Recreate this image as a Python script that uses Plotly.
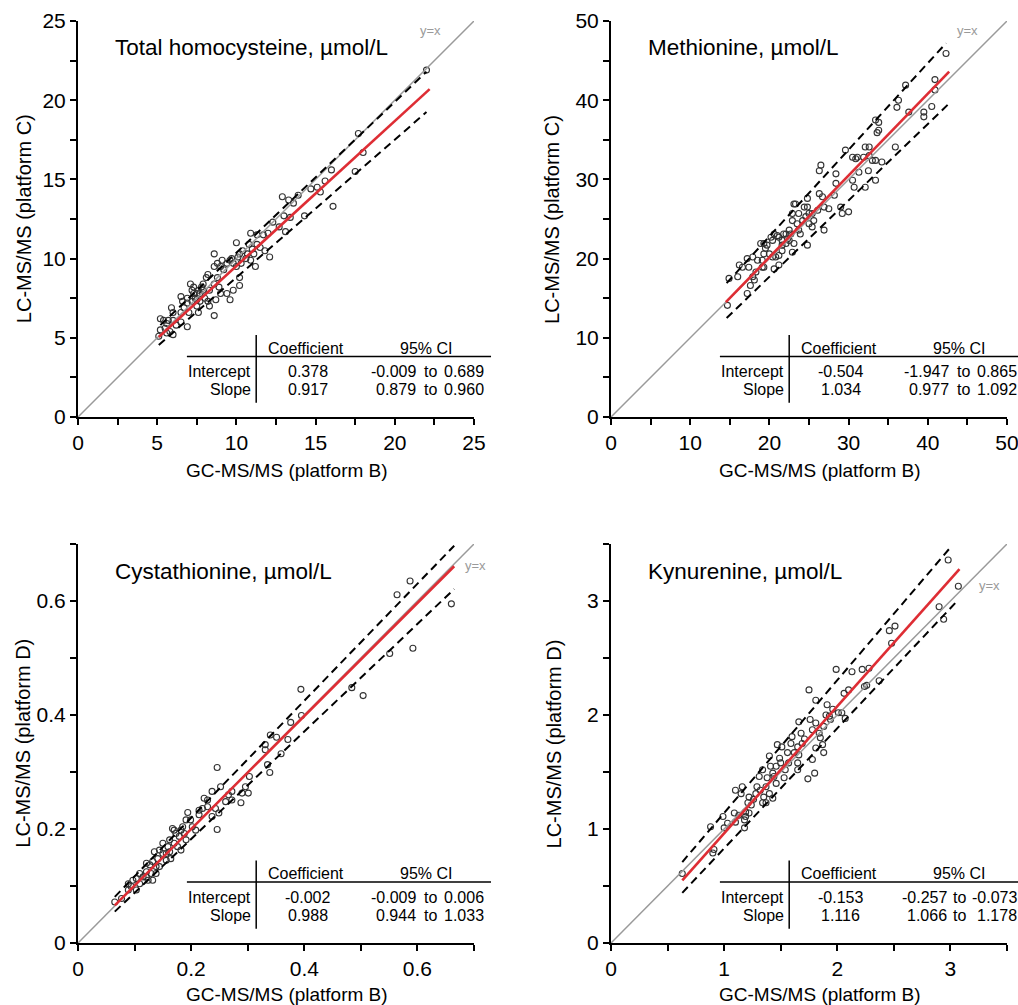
import plotly.graph_objects as go

# ---------------- data ----------------
titles = ["Total homocysteine, µmol/L", "Methionine, µmol/L",
          "Cystathionine, µmol/L", "Kynurenine, µmol/L"]
y_titles = ["LC-MS/MS (platform C)", "LC-MS/MS (platform C)",
            "LC-MS/MS (platform D)", "LC-MS/MS (platform D)"]
x_title = "GC-MS/MS (platform B)"

ranges = [25, 50, 0.7, 3.5]
major_dtick = [5, 10, 0.2, 1]
minor_dtick = [2.5, 5, 0.1, 0.5]

# Panel 1: total homocysteine
hcy_x = [22.0, 17.7, 18.0, 17.5, 16.0, 16.1, 15.3, 15.6, 15.1, 14.7, 14.3, 13.9, 13.6, 12.9, 13.3, 13.0,
         13.4, 12.7, 12.3, 13.1, 12.0, 11.7, 10.9, 11.3, 10.8, 11.3, 12.1, 11.2, 11.8, 10.0, 10.2, 10.3,
         10.2, 10.2, 9.8, 9.4, 9.6, 8.6, 8.6, 8.8, 9.0, 9.4, 9.7, 9.8, 9.2, 8.8, 8.9, 8.6, 9.0, 8.7, 8.6,
         8.3, 8.2, 7.9, 7.9, 7.7, 7.5, 7.3, 7.1, 7.4, 7.2, 6.9, 6.7, 7.5, 7.7, 7.6, 7.0, 6.5, 6.5, 6.6,
         6.0, 5.9, 5.7, 6.0, 6.9, 5.4, 5.2, 5.2, 5.5, 5.8, 6.0, 5.1, 5.6, 6.2, 6.5, 5.6, 8.1, 7.8, 7.3,
         10.9, 10.7, 10.6, 11.1, 11.5, 11.0, 9.6, 10.1, 10.4, 10.0, 9.1, 8.2, 8.3, 6.9, 7.2, 8.0, 7.6, 7.5]
hcy_y = [21.9, 17.9, 16.7, 15.5, 15.6, 13.3, 14.2, 14.9, 14.5, 14.4, 12.7, 14.0, 13.5, 13.9, 13.7, 12.7,
         12.6, 12.0, 12.3, 11.7, 11.6, 11.5, 11.6, 11.5, 10.9, 10.9, 10.1, 9.5, 10.5, 11.0, 10.3, 9.7,
         8.8, 8.3, 8.0, 7.8, 7.4, 10.3, 9.5, 9.7, 9.5, 9.7, 10.0, 9.7, 9.3, 8.8, 8.2, 8.4, 7.8, 7.4, 6.4,
         7.0, 7.3, 8.4, 8.0, 7.8, 7.4, 7.8, 8.4, 7.5, 7.3, 7.2, 6.9, 7.0, 7.3, 6.6, 6.6, 7.6, 6.6, 7.3,
         6.6, 6.9, 6.1, 6.1, 5.7, 6.1, 6.2, 5.5, 5.6, 5.4, 5.2, 5.1, 5.9, 5.8, 6.0, 5.3, 8.8, 8.2, 8.2,
         9.9, 10.3, 10.0, 10.3, 10.7, 10.6, 9.9, 10.1, 10.5, 9.5, 9.9, 9.0, 8.0, 7.5, 8.0, 7.5, 8.0, 7.8]

# Panel 2: methionine
met_x = [42.3, 40.9, 40.9, 40.5, 39.5, 39.5, 37.2, 36.3, 36.1, 37.6, 35.9, 33.8, 33.4, 33.6, 33.8, 34.2,
         33.4, 33.0, 33.4, 32.6, 32.1, 32.6, 31.9, 31.1, 30.9, 30.5, 31.3, 32.5, 32.1, 30.7, 30.5, 29.6,
         30.0, 29.2, 29.0, 28.4, 28.4, 28.2, 27.5, 26.9, 26.5, 26.3, 26.7, 26.3, 26.9, 26.1, 25.6, 25.4,
         25.0, 24.8, 24.8, 24.4, 24.6, 24.8, 24.2, 23.7, 23.1, 23.3, 22.9, 22.9, 22.7, 23.1, 22.9, 22.5,
         22.3, 22.1, 21.8, 21.6, 21.2, 21.0, 20.6, 20.4, 20.2, 19.7, 19.3, 18.9, 19.5, 20.0, 20.4, 20.8,
         21.2, 21.2, 20.6, 19.3, 19.1, 19.1, 19.3, 18.5, 17.9, 17.4, 17.2, 18.3, 17.9, 18.1, 17.6, 17.2,
         16.6, 16.2, 16.0, 14.9, 14.7, 21.6, 22.1, 23.7, 23.9, 25.0, 25.4, 23.5, 22.5, 21.6]
met_y = [45.9, 42.6, 41.3, 39.2, 38.5, 37.9, 41.9, 40.0, 39.1, 38.5, 34.1, 37.2, 37.5, 35.9, 36.2, 32.2,
         32.4, 32.4, 29.9, 34.1, 34.1, 33.0, 32.8, 32.8, 32.6, 32.8, 30.9, 31.1, 29.0, 29.0, 29.9, 33.7,
         25.9, 25.7, 26.5, 29.5, 30.7, 28.0, 26.3, 26.5, 31.8, 31.1, 27.8, 28.2, 23.6, 26.1, 24.8, 24.0,
         25.7, 26.5, 27.6, 26.5, 25.3, 21.7, 24.8, 25.7, 26.9, 26.9, 25.7, 24.8, 23.1, 21.9, 20.8, 23.6,
         22.5, 21.9, 23.1, 22.3, 22.7, 22.9, 23.1, 22.3, 22.7, 21.7, 21.9, 21.9, 21.3, 20.6, 20.2, 20.2,
         20.4, 19.2, 18.7, 20.6, 19.8, 18.9, 18.9, 19.8, 20.2, 18.9, 20.0, 18.3, 17.7, 17.3, 16.6, 15.6,
         18.9, 19.2, 17.7, 17.5, 14.1, 21.0, 23.1, 23.6, 23.1, 24.4, 25.7, 24.4, 22.3, 21.7]

# Panel 3: cystathionine
cys_x = [0.587, 0.564, 0.660, 0.592, 0.551, 0.394, 0.484, 0.504, 0.395, 0.376, 0.371, 0.351, 0.340, 0.331,
         0.331, 0.335, 0.339, 0.359, 0.246, 0.246, 0.303, 0.296, 0.301, 0.288, 0.272, 0.266, 0.261, 0.252,
         0.249, 0.237, 0.223, 0.229, 0.220, 0.237, 0.214, 0.199, 0.194, 0.202, 0.208, 0.182, 0.179, 0.167,
         0.173, 0.170, 0.162, 0.159, 0.150, 0.182, 0.176, 0.156, 0.144, 0.141, 0.135, 0.132, 0.138, 0.127,
         0.121, 0.121, 0.115, 0.124, 0.109, 0.103, 0.097, 0.094, 0.103, 0.089, 0.089, 0.109, 0.129, 0.132,
         0.150, 0.156, 0.162, 0.164, 0.065, 0.077, 0.188, 0.191, 0.214, 0.229, 0.243, 0.272, 0.290, 0.138,
         0.144, 0.121, 0.170, 0.191, 0.185]
cys_y = [0.635, 0.611, 0.595, 0.517, 0.508, 0.445, 0.448, 0.434, 0.399, 0.387, 0.357, 0.361, 0.365, 0.348,
         0.339, 0.313, 0.299, 0.332, 0.308, 0.199, 0.292, 0.274, 0.263, 0.246, 0.266, 0.260, 0.248, 0.274,
         0.228, 0.266, 0.254, 0.239, 0.236, 0.222, 0.225, 0.216, 0.229, 0.204, 0.198, 0.198, 0.187, 0.201,
         0.192, 0.175, 0.181, 0.169, 0.175, 0.163, 0.169, 0.157, 0.163, 0.148, 0.160, 0.143, 0.134, 0.137,
         0.140, 0.125, 0.116, 0.110, 0.122, 0.113, 0.110, 0.099, 0.093, 0.104, 0.093, 0.104, 0.122, 0.110,
         0.157, 0.145, 0.160, 0.148, 0.072, 0.078, 0.192, 0.181, 0.233, 0.251, 0.236, 0.251, 0.263, 0.122,
         0.134, 0.116, 0.198, 0.216, 0.204]

# Panel 4: kynurenine
kyn_x = [2.98, 3.07, 2.90, 2.94, 2.46, 2.51, 2.48, 2.37, 2.28, 2.22, 2.24, 2.26, 2.13, 2.10, 2.06, 2.07,
         1.99, 1.96, 1.91, 1.90, 2.01, 1.94, 1.75, 1.81, 1.76, 1.78, 1.81, 1.84, 1.85, 1.87, 1.88, 1.80,
         1.74, 1.78, 1.81, 1.66, 1.68, 1.69, 1.65, 1.66, 1.65, 1.65, 1.60, 1.59, 1.56, 1.57, 1.54, 1.53,
         1.51, 1.47, 1.49, 1.46, 1.44, 1.46, 1.40, 1.41, 1.38, 1.37, 1.40, 1.43, 1.34, 1.31, 1.29, 1.35,
         1.34, 1.28, 1.26, 1.22, 1.21, 1.19, 1.16, 1.15, 1.10, 1.18, 1.18, 1.19, 1.13, 1.10, 1.09, 1.03,
         1.00, 0.99, 0.88, 0.91, 0.90, 0.63, 1.24, 1.32, 1.43, 1.50, 1.62, 1.71, 1.93, 1.88, 2.04, 1.22, 1.37]
kyn_y = [3.36, 3.13, 2.95, 2.84, 2.74, 2.78, 2.63, 2.30, 2.41, 2.40, 2.25, 2.26, 2.38, 2.22, 2.19, 1.97,
         2.40, 2.05, 2.09, 2.00, 2.02, 1.96, 2.22, 2.13, 1.96, 1.87, 1.93, 1.84, 1.80, 1.74, 1.67, 1.49,
         1.44, 1.61, 1.71, 1.94, 1.84, 1.75, 1.72, 1.65, 1.58, 1.52, 1.81, 1.75, 1.67, 1.58, 1.52, 1.45,
         1.72, 1.74, 1.62, 1.55, 1.46, 1.40, 1.64, 1.55, 1.45, 1.37, 1.31, 1.27, 1.52, 1.46, 1.37, 1.28,
         1.23, 1.31, 1.26, 1.28, 1.23, 1.15, 1.37, 1.31, 1.34, 1.08, 1.01, 1.11, 1.12, 1.06, 1.14, 1.05,
         1.01, 1.11, 1.02, 0.82, 0.79, 0.61, 1.21, 1.34, 1.49, 1.58, 1.67, 1.79, 1.99, 1.90, 2.02, 1.14, 1.23]

points_x = [hcy_x, met_x, cys_x, kyn_x]
points_y = [hcy_y, met_y, cys_y, kyn_y]

# regression line and dashed band end points
fit_x = [[5.1, 22.2], [14.5, 42.7], [0.065, 0.665], [0.63, 3.08]]
fit_y = [[5.05, 20.7], [14.5, 43.6], [0.066, 0.661], [0.55, 3.28]]
up_x = [[5.2, 22.0], [14.6, 42.3], [0.065, 0.665], [0.63, 3.00]]
up_y = [[5.8, 21.8], [16.9, 47.2], [0.081, 0.697], [0.71, 3.47]]
lo_x = [[5.1, 22.0], [14.6, 42.7], [0.065, 0.665], [0.63, 3.05]]
lo_y = [[4.55, 19.25], [12.5, 39.6], [0.055, 0.621], [0.44, 2.99]]

# tables
coef_int = ["0.378", "-0.504", "-0.002", "-0.153"]
coef_slope = ["0.917", "1.034", "0.988", "1.116"]
ci_int_lo = ["-0.009", "-1.947", "-0.009", "-0.257"]
ci_int_hi = ["0.689", "0.865", "0.006", "-0.073"]
ci_slope_lo = ["0.879", "0.977", "0.944", "1.066"]
ci_slope_hi = ["0.960", "1.092", "1.033", "1.178"]

# ---------------- layout geometry ----------------
W, H = 1018, 1005
xl, xr = (78, 474), (611, 1007)
yt, yb = (21, 417), (544, 943)
x_domains = [[xl[0] / W, xl[1] / W], [xr[0] / W, xr[1] / W], [xl[0] / W, xl[1] / W], [xr[0] / W, xr[1] / W]]
y_domains = [[1 - yt[1] / H, 1 - yt[0] / H], [1 - yt[1] / H, 1 - yt[0] / H],
             [1 - yb[1] / H, 1 - yb[0] / H], [1 - yb[1] / H, 1 - yb[0] / H]]
yx_label_pos = [(0.891, 0.977), (0.899, 0.977), (1.005, 0.947), (0.955, 0.895)]
ytitle_x = [-0.136, -0.149, -0.141, -0.144]
xtitle_y = [-0.134, -0.134, -0.130, -0.130]
ci_lo_x = [0.857, 0.857, 0.857, 0.851]
ci_to_x = [0.870, 0.870, 0.870, 0.860]
ci_hi_x = [1.027, 1.027, 1.027, 1.027]

FONT = "Liberation Sans, Arial, Helvetica, sans-serif"
RED = "rgb(222,45,52)"

fig = go.Figure()
shapes = []
annotations = []
layout_axes = {}

for i in range(4):
    n = "" if i == 0 else str(i + 1)
    xa, ya = "x" + n, "y" + n
    xd, yd = xa + " domain", ya + " domain"
    r = ranges[i]

    fig.add_trace(go.Scatter(x=points_x[i], y=points_y[i], mode="markers", xaxis=xa, yaxis=ya,
                             marker=dict(symbol="circle-open", size=6, color="#333",
                                         line=dict(width=1.1, color="#333")),
                             showlegend=False, hoverinfo="x+y"))
    fig.add_trace(go.Scatter(x=[0, r], y=[0, r], mode="lines", xaxis=xa, yaxis=ya,
                             line=dict(color="#9a9a9a", width=1.5), showlegend=False))
    fig.add_trace(go.Scatter(x=up_x[i], y=up_y[i], mode="lines", xaxis=xa, yaxis=ya,
                             line=dict(color="black", width=2, dash="8px,5px"), showlegend=False))
    fig.add_trace(go.Scatter(x=lo_x[i], y=lo_y[i], mode="lines", xaxis=xa, yaxis=ya,
                             line=dict(color="black", width=2, dash="8px,5px"), showlegend=False))
    fig.add_trace(go.Scatter(x=fit_x[i], y=fit_y[i], mode="lines", xaxis=xa, yaxis=ya,
                             line=dict(color=RED, width=2.6), showlegend=False))

    common = dict(showgrid=False, zeroline=False, showline=True, linecolor="black", linewidth=2,
                  ticks="outside", ticklen=6, tickwidth=2, tickcolor="black", automargin=False,
                  ticklabeloverflow="allow",
                  tickfont=dict(family=FONT, size=21, color="black"), fixedrange=True)
    layout_axes["xaxis" + n] = dict(common, domain=x_domains[i], range=[0, r], dtick=major_dtick[i],
                                    tick0=0, anchor=ya,
                                    minor=dict(dtick=minor_dtick[i], ticks="outside", ticklen=6,
                                               tickwidth=2, tickcolor="black"))
    layout_axes["yaxis" + n] = dict(common, domain=y_domains[i], range=[0, r], dtick=major_dtick[i],
                                    tick0=0, anchor=xa,
                                    minor=dict(dtick=minor_dtick[i], ticks="outside", ticklen=6,
                                               tickwidth=2, tickcolor="black"))

    # panel title
    annotations.append(dict(xref=xd, yref=yd, x=0.088, y=0.932, text=titles[i], showarrow=False,
                            xanchor="left", yanchor="middle",
                            font=dict(family=FONT, size=22.5, color="black")))
    # y=x label
    annotations.append(dict(xref=xd, yref=yd, x=yx_label_pos[i][0], y=yx_label_pos[i][1], text="y=x",
                            showarrow=False, xanchor="center", yanchor="middle",
                            font=dict(family=FONT, size=13, color="#9a9a9a")))
    # axis titles
    annotations.append(dict(xref=xd, yref=yd, x=0.528, y=xtitle_y[i], text=x_title, showarrow=False,
                            xanchor="center", yanchor="middle",
                            font=dict(family=FONT, size=19, color="black")))
    annotations.append(dict(xref=xd, yref=yd, x=ytitle_x[i], y=0.5, text=y_titles[i], showarrow=False,
                            textangle=-90, xanchor="center", yanchor="middle",
                            font=dict(family=FONT, size=20, color="black")))

    # table
    shapes.append(dict(type="line", xref=xd, yref=yd, x0=0.45, x1=0.45, y0=0.207, y1=0.036,
                       line=dict(color="black", width=1.5)))
    shapes.append(dict(type="line", xref=xd, yref=yd, x0=0.275, x1=1.043, y0=0.153, y1=0.153,
                       line=dict(color="black", width=1.5)))
    tf = dict(family=FONT, size=16, color="black")
    y_head, y_r1, y_r2 = 0.174, 0.114, 0.069
    annotations += [
        dict(xref=xd, yref=yd, x=0.577, y=y_head, text="Coefficient", xanchor="center"),
        dict(xref=xd, yref=yd, x=0.88, y=y_head, text="95% CI", xanchor="center"),
        dict(xref=xd, yref=yd, x=0.44, y=y_r1, text="Intercept", xanchor="right"),
        dict(xref=xd, yref=yd, x=0.44, y=y_r2, text="Slope", xanchor="right"),
        dict(xref=xd, yref=yd, x=0.58, y=y_r1, text=coef_int[i], xanchor="center"),
        dict(xref=xd, yref=yd, x=0.58, y=y_r2, text=coef_slope[i], xanchor="center"),
        dict(xref=xd, yref=yd, x=ci_lo_x[i], y=y_r1, text=ci_int_lo[i], xanchor="right"),
        dict(xref=xd, yref=yd, x=ci_lo_x[i], y=y_r2, text=ci_slope_lo[i], xanchor="right"),
        dict(xref=xd, yref=yd, x=ci_to_x[i], y=y_r1, text="to", xanchor="left"),
        dict(xref=xd, yref=yd, x=ci_to_x[i], y=y_r2, text="to", xanchor="left"),
        dict(xref=xd, yref=yd, x=ci_hi_x[i], y=y_r1, text=ci_int_hi[i], xanchor="right"),
        dict(xref=xd, yref=yd, x=ci_hi_x[i], y=y_r2, text=ci_slope_hi[i], xanchor="right"),
    ]
    for a in annotations[-12:]:
        a.update(showarrow=False, yanchor="middle", font=tf, borderpad=0)

fig.update_layout(width=W, height=H, margin=dict(l=0, r=0, t=0, b=0, autoexpand=False),
                  paper_bgcolor="white", plot_bgcolor="white",
                  font=dict(family=FONT, color="black"),
                  shapes=shapes, annotations=annotations, showlegend=False, **layout_axes)

# remove the browser's default 8px body margin so the 1018x1005 figure fills the window exactly
fig.write_html("out.html", config={"displayModeBar": False},
               post_script="document.body.style.margin='0';document.body.style.overflow='hidden';")
